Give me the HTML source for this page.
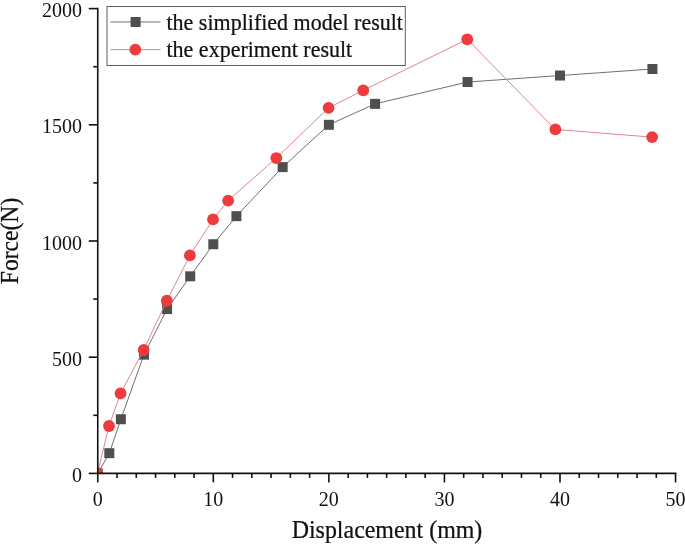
<!DOCTYPE html>
<html><head><meta charset="utf-8"><style>
html,body{margin:0;padding:0;background:#fff;width:685px;height:546px;overflow:hidden}
svg{display:block;will-change:transform}
text{font-family:"Liberation Serif", serif;fill:#111}
.b{stroke:#111;stroke-width:0.25px}
</style></head><body>
<svg width="685" height="546" viewBox="0 0 685 546">
<defs><clipPath id="pa"><rect x="97.75" y="0" width="587.25" height="473.40"/></clipPath></defs>
<g clip-path="url(#pa)">
<polyline points="97.75,473.40 109.31,453.18 120.86,419.25 143.97,354.64 167.09,309.09 190.20,276.32 213.31,244.25 236.42,216.13 282.65,167.10 328.87,124.80 375.09,103.88 467.54,82.04 559.99,75.53 652.44,69.02" fill="none" stroke="#707070" stroke-width="1"/>

<rect x="92.75" y="468.40" width="10" height="10" fill="#4f4f4f"/>
<rect x="104.31" y="448.18" width="10" height="10" fill="#4f4f4f"/>
<rect x="115.86" y="414.25" width="10" height="10" fill="#4f4f4f"/>
<rect x="138.97" y="349.64" width="10" height="10" fill="#4f4f4f"/>
<rect x="162.09" y="304.09" width="10" height="10" fill="#4f4f4f"/>
<rect x="185.20" y="271.32" width="10" height="10" fill="#4f4f4f"/>
<rect x="208.31" y="239.25" width="10" height="10" fill="#4f4f4f"/>
<rect x="231.42" y="211.13" width="10" height="10" fill="#4f4f4f"/>
<rect x="277.65" y="162.10" width="10" height="10" fill="#4f4f4f"/>
<rect x="323.87" y="119.80" width="10" height="10" fill="#4f4f4f"/>
<rect x="370.09" y="98.88" width="10" height="10" fill="#4f4f4f"/>
<rect x="462.54" y="77.04" width="10" height="10" fill="#4f4f4f"/>
<rect x="554.99" y="70.53" width="10" height="10" fill="#4f4f4f"/>
<rect x="647.44" y="64.02" width="10" height="10" fill="#4f4f4f"/>
<polyline points="97.45,473.40 109.01,425.99 120.56,393.45 143.67,350.00 166.79,300.73 189.90,255.41 213.01,219.39 228.15,200.56 276.34,158.03 328.57,107.83 363.24,90.40 467.24,39.28 555.41,129.45 652.14,137.12" fill="none" stroke="#e08590" stroke-width="1"/>
<circle cx="97.45" cy="473.40" r="5.9" fill="#f03b3d"/>
<circle cx="109.01" cy="425.99" r="5.9" fill="#f03b3d"/>
<circle cx="120.56" cy="393.45" r="5.9" fill="#f03b3d"/>
<circle cx="143.67" cy="350.00" r="5.9" fill="#f03b3d"/>
<circle cx="166.79" cy="300.73" r="5.9" fill="#f03b3d"/>
<circle cx="189.90" cy="255.41" r="5.9" fill="#f03b3d"/>
<circle cx="213.01" cy="219.39" r="5.9" fill="#f03b3d"/>
<circle cx="228.15" cy="200.56" r="5.9" fill="#f03b3d"/>
<circle cx="276.34" cy="158.03" r="5.9" fill="#f03b3d"/>
<circle cx="328.57" cy="107.83" r="5.9" fill="#f03b3d"/>
<circle cx="363.24" cy="90.40" r="5.9" fill="#f03b3d"/>
<circle cx="467.24" cy="39.28" r="5.9" fill="#f03b3d"/>
<circle cx="555.41" cy="129.45" r="5.9" fill="#f03b3d"/>
<circle cx="652.14" cy="137.12" r="5.9" fill="#f03b3d"/>
</g>
<g stroke="#111" stroke-width="1.6" fill="none">
<line x1="97.75" y1="473.40" x2="97.75" y2="7.80"/>
<line x1="96.95" y1="473.40" x2="676.35" y2="473.40"/>
<line x1="97.75" y1="473.40" x2="97.75" y2="482.40"/>
<line x1="117.01" y1="473.40" x2="117.01" y2="477.90"/>
<line x1="136.27" y1="473.40" x2="136.27" y2="477.90"/>
<line x1="155.53" y1="473.40" x2="155.53" y2="477.90"/>
<line x1="174.79" y1="473.40" x2="174.79" y2="477.90"/>
<line x1="194.05" y1="473.40" x2="194.05" y2="477.90"/>
<line x1="213.31" y1="473.40" x2="213.31" y2="482.40"/>
<line x1="232.57" y1="473.40" x2="232.57" y2="477.90"/>
<line x1="251.83" y1="473.40" x2="251.83" y2="477.90"/>
<line x1="271.09" y1="473.40" x2="271.09" y2="477.90"/>
<line x1="290.35" y1="473.40" x2="290.35" y2="477.90"/>
<line x1="309.61" y1="473.40" x2="309.61" y2="477.90"/>
<line x1="328.87" y1="473.40" x2="328.87" y2="482.40"/>
<line x1="348.13" y1="473.40" x2="348.13" y2="477.90"/>
<line x1="367.39" y1="473.40" x2="367.39" y2="477.90"/>
<line x1="386.65" y1="473.40" x2="386.65" y2="477.90"/>
<line x1="405.91" y1="473.40" x2="405.91" y2="477.90"/>
<line x1="425.17" y1="473.40" x2="425.17" y2="477.90"/>
<line x1="444.43" y1="473.40" x2="444.43" y2="482.40"/>
<line x1="463.69" y1="473.40" x2="463.69" y2="477.90"/>
<line x1="482.95" y1="473.40" x2="482.95" y2="477.90"/>
<line x1="502.21" y1="473.40" x2="502.21" y2="477.90"/>
<line x1="521.47" y1="473.40" x2="521.47" y2="477.90"/>
<line x1="540.73" y1="473.40" x2="540.73" y2="477.90"/>
<line x1="559.99" y1="473.40" x2="559.99" y2="482.40"/>
<line x1="579.25" y1="473.40" x2="579.25" y2="477.90"/>
<line x1="598.51" y1="473.40" x2="598.51" y2="477.90"/>
<line x1="617.77" y1="473.40" x2="617.77" y2="477.90"/>
<line x1="637.03" y1="473.40" x2="637.03" y2="477.90"/>
<line x1="656.29" y1="473.40" x2="656.29" y2="477.90"/>
<line x1="675.55" y1="473.40" x2="675.55" y2="482.40"/>
<line x1="88.75" y1="473.40" x2="97.75" y2="473.40"/>
<line x1="93.25" y1="415.30" x2="97.75" y2="415.30"/>
<line x1="88.75" y1="357.20" x2="97.75" y2="357.20"/>
<line x1="93.25" y1="299.10" x2="97.75" y2="299.10"/>
<line x1="88.75" y1="241.00" x2="97.75" y2="241.00"/>
<line x1="93.25" y1="182.90" x2="97.75" y2="182.90"/>
<line x1="88.75" y1="124.80" x2="97.75" y2="124.80"/>
<line x1="93.25" y1="66.70" x2="97.75" y2="66.70"/>
<line x1="88.75" y1="8.60" x2="97.75" y2="8.60"/>
</g>
<text x="97.75" y="506" font-size="20" text-anchor="middle">0</text>
<text x="213.31" y="506" font-size="20" text-anchor="middle">10</text>
<text x="328.87" y="506" font-size="20" text-anchor="middle">20</text>
<text x="444.43" y="506" font-size="20" text-anchor="middle">30</text>
<text x="559.99" y="506" font-size="20" text-anchor="middle">40</text>
<text x="675.55" y="506" font-size="20" text-anchor="middle">50</text>
<text x="82" y="481.90" font-size="20" text-anchor="end">0</text>
<text x="82" y="365.70" font-size="20" text-anchor="end">500</text>
<text x="82" y="249.50" font-size="20" text-anchor="end">1000</text>
<text x="82" y="133.30" font-size="20" text-anchor="end">1500</text>
<text x="82" y="17.10" font-size="20" text-anchor="end">2000</text>
<text class="b" transform="translate(387,538) scale(0.965,1)" font-size="24.8" text-anchor="middle">Displacement (mm)</text>
<text class="b" transform="translate(18.3,241) rotate(-90) scale(0.967,1)" font-size="24.4" text-anchor="middle">Force(N)</text>
<rect x="107" y="6.5" width="298.3" height="59" fill="#fff" stroke="#5e5e5e" stroke-width="1"/>
<line x1="110.5" y1="22" x2="160.5" y2="22" stroke="#707070" stroke-width="1"/>
<rect x="130.6" y="17" width="10" height="10" fill="#4f4f4f"/>
<line x1="110.5" y1="49.6" x2="160.5" y2="49.6" stroke="#e08590" stroke-width="1"/>
<circle cx="135.3" cy="49.6" r="5.9" fill="#f03b3d"/>
<text class="b" transform="translate(166.5,29.8) scale(0.917,1)" font-size="24">the simplified model result</text>
<text class="b" transform="translate(166.5,57.2) scale(0.917,1)" font-size="24">the experiment result</text>
</svg></body></html>
